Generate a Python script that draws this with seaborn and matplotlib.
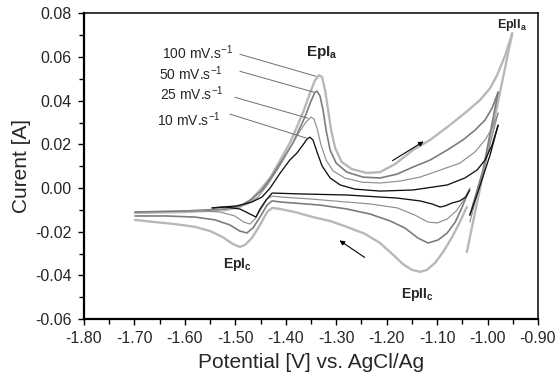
import numpy as np
import pandas as pd
import matplotlib
matplotlib.use('Agg')
import matplotlib.pyplot as plt
from matplotlib.ticker import MultipleLocator, FormatStrFormatter
import seaborn as sns

# scan rates in mV/s, each CV split into forward sweep, vertex drop, reverse sweep
rates = ['100', '50', '25', '10']
rate_labels = [r'100 mV.s$^{-1}$', r'50 mV.s$^{-1}$', r'25 mV.s$^{-1}$', r'10 mV.s$^{-1}$']

# 100 mV/s
v100_fwd = [-1.699, -1.60, -1.52, -1.491, -1.471, -1.451, -1.431, -1.411, -1.392, -1.378, -1.364, -1.352,
            -1.342, -1.334, -1.328, -1.322, -1.316, -1.310, -1.302, -1.289, -1.269, -1.239, -1.213, -1.183,
            -1.148, -1.114, -1.080, -1.045, -1.015, -0.995, -0.981, -0.965, -0.951]
i100_fwd = [-0.0114, -0.0110, -0.0101, -0.0087, -0.0059, -0.0009, 0.0046, 0.0128, 0.0206, 0.0279, 0.0357, 0.0435,
            0.0494, 0.0517, 0.0508, 0.0448, 0.0357, 0.0265, 0.0183, 0.0119, 0.0087, 0.0069, 0.0073, 0.0110,
            0.0174, 0.0220, 0.0279, 0.0343, 0.0403, 0.0457, 0.0517, 0.0608, 0.0709]
v100_drop = [-0.951, -1.041]
i100_drop = [0.0709, -0.0293]
v100_rev = [-1.041, -1.055, -1.070, -1.088, -1.104, -1.120, -1.134, -1.150, -1.168, -1.187, -1.213, -1.243,
            -1.279, -1.312, -1.346, -1.382, -1.411, -1.427, -1.437, -1.451, -1.467, -1.481, -1.491, -1.505,
            -1.526, -1.550, -1.580, -1.620, -1.659, -1.699]
i100_rev = [-0.0087, -0.0156, -0.0224, -0.0293, -0.0343, -0.0375, -0.0384, -0.0375, -0.0348, -0.0306, -0.0252, -0.0210,
            -0.0178, -0.0151, -0.0133, -0.0110, -0.0096, -0.0091, -0.0110, -0.0169, -0.0229, -0.0261, -0.0270, -0.0256,
            -0.0224, -0.0197, -0.0178, -0.0165, -0.0156, -0.0146]

# 50 mV/s
v50_fwd = [-1.699, -1.60, -1.520, -1.487, -1.467, -1.447, -1.427, -1.407, -1.386, -1.362, -1.350, -1.342,
           -1.338, -1.332, -1.326, -1.320, -1.312, -1.300, -1.279, -1.247, -1.213, -1.179, -1.148, -1.114,
           -1.080, -1.049, -1.025, -1.005, -0.991, -0.979]
i50_fwd = [-0.0110, -0.0105, -0.0096, -0.0078, -0.0050, -0.0009, 0.0055, 0.0128, 0.0206, 0.0325, 0.0398, 0.0439,
           0.0444, 0.0421, 0.0357, 0.0265, 0.0174, 0.0114, 0.0073, 0.0050, 0.0046, 0.0064, 0.0096, 0.0128,
           0.0174, 0.0220, 0.0265, 0.0311, 0.0366, 0.0439]
v50_drop = [-0.979, -1.009, -1.035]
i50_drop = [0.0439, 0.0082, -0.0124]
v50_rev = [-1.039, -1.051, -1.064, -1.080, -1.098, -1.118, -1.138, -1.164, -1.193, -1.233, -1.279, -1.332,
           -1.382, -1.411, -1.427, -1.437, -1.451, -1.465, -1.477, -1.491, -1.511, -1.540, -1.580, -1.639, -1.699]
i50_rev = [-0.0023, -0.0091, -0.0156, -0.0206, -0.0238, -0.0252, -0.0229, -0.0183, -0.0151, -0.0119, -0.0096, -0.0078,
           -0.0069, -0.0064, -0.0059, -0.0078, -0.0133, -0.0183, -0.0206, -0.0197, -0.0169, -0.0146, -0.0133, -0.0128, -0.0128]

# 25 mV/s
v25_fwd = [-1.596, -1.540, -1.501, -1.475, -1.455, -1.435, -1.411, -1.388, -1.372, -1.360, -1.350, -1.344,
           -1.338, -1.330, -1.320, -1.306, -1.283, -1.249, -1.213, -1.173, -1.134, -1.094, -1.055, -1.025,
           -1.005, -0.991, -0.979]
i25_fwd = [-0.0105, -0.0101, -0.0091, -0.0073, -0.0041, 0.0018, 0.0105, 0.0197, 0.0261, 0.0302, 0.0325, 0.0316,
           0.0274, 0.0197, 0.0128, 0.0078, 0.0046, 0.0027, 0.0023, 0.0032, 0.0050, 0.0082, 0.0114, 0.0165,
           0.0220, 0.0274, 0.0343]
v25_drop = [-0.979, -1.003, -1.035]
i25_drop = [0.0343, 0.0128, -0.0156]
v25_rev = [-1.035, -1.047, -1.062, -1.080, -1.100, -1.118, -1.144, -1.179, -1.233, -1.279, -1.352, -1.411,
           -1.427, -1.437, -1.449, -1.461, -1.471, -1.483, -1.501, -1.530, -1.570, -1.596]
i25_rev = [0.0000, -0.0055, -0.0105, -0.0142, -0.0160, -0.0156, -0.0124, -0.0091, -0.0073, -0.0064, -0.0050, -0.0041,
           -0.0037, -0.0050, -0.0096, -0.0142, -0.0165, -0.0156, -0.0128, -0.0110, -0.0105, -0.0105]

# 10 mV/s
v10_fwd = [-1.546, -1.497, -1.467, -1.447, -1.431, -1.411, -1.392, -1.378, -1.366, -1.358, -1.352, -1.346,
           -1.338, -1.328, -1.312, -1.292, -1.263, -1.213, -1.148, -1.080, -1.045, -1.021, -1.005, -0.991, -0.979]
i10_fwd = [-0.0091, -0.0082, -0.0064, -0.0041, 0.0000, 0.0069, 0.0128, 0.0160, 0.0197, 0.0224, 0.0233, 0.0220,
           0.0165, 0.0101, 0.0046, 0.0014, -0.0005, -0.0014, -0.0009, 0.0014, 0.0046, 0.0082, 0.0128, 0.0197, 0.0288]
v10_drop = [-0.979, -0.995, -1.019, -1.035]
i10_drop = [0.0288, 0.0151, -0.0018, -0.0124]
v10_rev = [-1.035, -1.043, -1.055, -1.071, -1.084, -1.094, -1.110, -1.134, -1.179, -1.279, -1.372, -1.427,
           -1.439, -1.451, -1.459, -1.471, -1.491, -1.520, -1.546]
i10_rev = [-0.0009, -0.0041, -0.0059, -0.0069, -0.0082, -0.0087, -0.0073, -0.0059, -0.0046, -0.0032, -0.0027, -0.0023,
           -0.0055, -0.0096, -0.0133, -0.0119, -0.0096, -0.0087, -0.0091]

curves = {
    '100': [(v100_fwd, i100_fwd), (v100_drop, i100_drop), (v100_rev, i100_rev)],
    '50': [(v50_fwd, i50_fwd), (v50_drop, i50_drop), (v50_rev, i50_rev)],
    '25': [(v25_fwd, i25_fwd), (v25_drop, i25_drop), (v25_rev, i25_rev)],
    '10': [(v10_fwd, i10_fwd), (v10_drop, i10_drop), (v10_rev, i10_rev)],
}

rows = []
for r in rates:
    for k, (vs, cs) in enumerate(curves[r]):
        for v, c in zip(vs, cs):
            rows.append({'V': v, 'I': c, 'rate': r, 'seg': r + '_' + str(k)})
df = pd.DataFrame(rows)

sns.set_style('ticks')
plt.rcParams['font.family'] = ['Liberation Sans', 'DejaVu Sans']
plt.rcParams['mathtext.fontset'] = 'custom'
plt.rcParams['mathtext.rm'] = 'Liberation Sans'
plt.rcParams['mathtext.it'] = 'Liberation Sans:italic'
plt.rcParams['mathtext.bf'] = 'Liberation Sans:bold'

fig = plt.figure(figsize=(5.58, 3.82), dpi=100)
ax = fig.add_axes([0.1505, 0.165, 0.8136, 0.7998])

palette = {'100': '#b8b8b8', '50': '#7c7c7c', '25': '#8e8e8e', '10': '#111111'}
sizes = {'100': 1.7, '50': 1.2, '25': 0.85, '10': 0.95}
sns.lineplot(data=df, x='V', y='I', hue='rate', size='rate', units='seg', estimator=None,
             sort=False, hue_order=rates, size_order=rates, palette=palette, sizes=sizes,
             legend=False, ax=ax)

# scan-rate labels with leader lines to the anodic peaks
label_xy = [(-1.504, 0.0618), (-1.526, 0.0522), (-1.524, 0.0430), (-1.530, 0.0311)]
line_start = [(-1.491, 0.0613), (-1.491, 0.0535), (-1.501, 0.0416), (-1.511, 0.0339)]
for r, lab, (tx, ty), (sx, sy) in zip(rates, rate_labels, label_xy, line_start):
    vf = np.array(curves[r][0][0])
    cf = np.array(curves[r][0][1])
    m = vf < -1.2
    k = np.argmax(cf[m])
    ax.plot([sx, vf[m][k] - 0.006], [sy, cf[m][k] - 0.0005], color='#707070', lw=0.7)
    ax.text(tx, ty, lab, ha='right', va='center', fontsize=10)

# peak labels
ax.text(-1.328, 0.0622, r'$\mathbf{EpI}_\mathbf{a}$', ha='center', va='center', fontsize=11)
ax.text(-0.951, 0.0746, r'$\mathbf{EpII}_\mathbf{a}$', ha='center', va='center', fontsize=9)
ax.text(-1.495, -0.0352, r'$\mathbf{EpI}_\mathbf{c}$', ha='center', va='center', fontsize=10)
ax.text(-1.140, -0.0489, r'$\mathbf{EpII}_\mathbf{c}$', ha='center', va='center', fontsize=10)

# sweep direction arrows
ax.annotate('', xy=(-1.122, 0.0220), xytext=(-1.193, 0.0119),
            arrowprops=dict(arrowstyle='-|>', color='black', lw=0.8, mutation_scale=7))
ax.annotate('', xy=(-1.298, -0.0233), xytext=(-1.239, -0.0325),
            arrowprops=dict(arrowstyle='-|>', color='black', lw=0.8, mutation_scale=7))

ax.set_xlim(-1.80, -0.90)
ax.set_ylim(-0.06, 0.08)
ax.xaxis.set_major_locator(MultipleLocator(0.1))
ax.xaxis.set_minor_locator(MultipleLocator(0.05))
ax.yaxis.set_major_locator(MultipleLocator(0.02))
ax.yaxis.set_minor_locator(MultipleLocator(0.01))
ax.xaxis.set_major_formatter(FormatStrFormatter('%.2f'))
ax.yaxis.set_major_formatter(FormatStrFormatter('%.2f'))
ax.tick_params(which='both', direction='out', color='black', width=1.0, labelsize=11.5, pad=5)
ax.tick_params(which='major', length=4)
ax.tick_params(which='minor', length=3.5)
for s in ax.spines.values():
    s.set_visible(True)
    s.set_color('black')
    s.set_linewidth(1.1)
ax.spines['left'].set_linewidth(1.6)
ax.spines['bottom'].set_linewidth(1.6)

ax.set_xlabel('Potential [V] vs. AgCl/Ag', fontsize=15, labelpad=5)
ax.set_ylabel('Curent [A]', fontsize=15, labelpad=3)

fig.savefig('out.png', dpi=100)
